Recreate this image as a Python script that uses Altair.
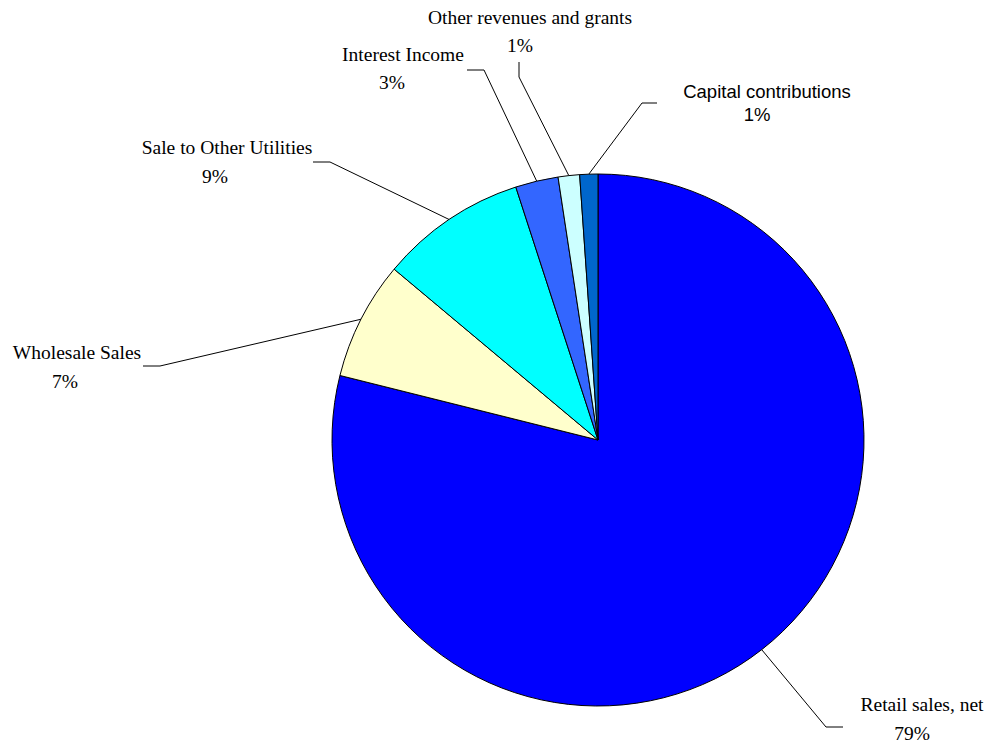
import math
import altair as alt
import pandas as pd

# ---- data ----
categories = ["Retail sales, net", "Wholesale Sales", "Sale to Other Utilities",
              "Interest Income", "Other revenues and grants", "Capital contributions"]
values = [78.9, 7.2, 8.9, 2.6, 1.3, 1.1]
colors = ["#0000FF", "#FFFFCC", "#00FFFF", "#3366FF", "#CCFFFF", "#0066CC"]

# ---- layout (pixels, relative to pie centre; y up) ----
W, H = 979, 737
CX, CY = 590, 432          # pie centre inside the plot area
R = 266
label_line1 = {            # centre of first label line (name)
    "Retail sales, net": (324, -265),
    "Wholesale Sales": (-521, 87),
    "Sale to Other Utilities": (-371, 292),
    "Interest Income": (-195, 385),
    "Other revenues and grants": (-68, 422),
    "Capital contributions": (169, 348),
}
label_line2 = {            # centre of second label line (percentage)
    "Retail sales, net": (314, -294),
    "Wholesale Sales": (-533, 58),
    "Sale to Other Utilities": (-383, 263),
    "Interest Income": (-206, 357),
    "Other revenues and grants": (-78, 394),
    "Capital contributions": (159, 325),
}
leader_pts = {             # elbow, end (near the label)
    "Retail sales, net": [(228, -287), (245, -287)],
    "Wholesale Sales": [(-438, 74), (-455, 74)],
    "Sale to Other Utilities": [(-268, 278), (-285, 278)],
    "Interest Income": [(-114, 370), (-131, 370)],
    "Other revenues and grants": [(-79, 363), (-79, 378)],
    "Capital contributions": [(44, 337), (59, 337)],
}
sans_labels = ["Capital contributions"]

total = sum(values)
df = pd.DataFrame({"category": categories, "value": values, "idx": range(len(values))})

lab_rows = []
line_rows = []
cum = 0.0
for c, v in zip(categories, values):
    mid = (cum + v / 2) / total * 2 * math.pi
    cum += v
    pct = f"{round(v / total * 100)}%"
    for txt, pos in ((c, label_line1[c]), (pct, label_line2[c])):
        lab_rows.append({"category": c, "text": txt, "x": pos[0], "y": pos[1],
                         "sans": c in sans_labels})
    pts = [(R * math.sin(mid), R * math.cos(mid))] + leader_pts[c]
    for i, (px, py) in enumerate(pts):
        line_rows.append({"category": c, "seq": i, "x": px, "y": py})

labels = pd.DataFrame(lab_rows)
lines = pd.DataFrame(line_rows)

xs = alt.Scale(domain=[-CX, W - CX], range=[0, W], nice=False, zero=False)
ys = alt.Scale(domain=[-(H - CY), CY], nice=False, zero=False)

pie = alt.Chart(df).mark_arc(outerRadius=R, stroke="black", strokeWidth=1).encode(
    theta=alt.Theta("value:Q", stack=True),
    color=alt.Color("category:N", scale=alt.Scale(domain=categories, range=colors), legend=None),
    order=alt.Order("idx:Q"),
    x=alt.value(CX),
    y=alt.value(CY),
)

leaders = alt.Chart(lines).mark_line(color="black", strokeWidth=1).encode(
    x=alt.X("x:Q", scale=xs, axis=None),
    y=alt.Y("y:Q", scale=ys, axis=None),
    detail="category:N",
    order="seq:Q",
)

serif_text = alt.Chart(labels).transform_filter("!datum.sans").mark_text(
    font="Liberation Serif", fontSize=19.5,
    align="center", baseline="middle", color="black",
).encode(
    x=alt.X("x:Q", scale=xs, axis=None),
    y=alt.Y("y:Q", scale=ys, axis=None),
    text="text:N",
)

sans_text = alt.Chart(labels).transform_filter("datum.sans").mark_text(
    font="Liberation Sans", fontSize=18.5,
    align="center", baseline="middle", color="black",
).encode(
    x=alt.X("x:Q", scale=xs, axis=None),
    y=alt.Y("y:Q", scale=ys, axis=None),
    text="text:N",
)

chart = alt.layer(pie, leaders, serif_text, sans_text).properties(
    width=W, height=H, padding=0, autosize=alt.AutoSizeParams(type="none"),
    background="white",
).configure_view(stroke=None)

chart.save("out.html", embed_options={"renderer": "svg", "actions": False})
